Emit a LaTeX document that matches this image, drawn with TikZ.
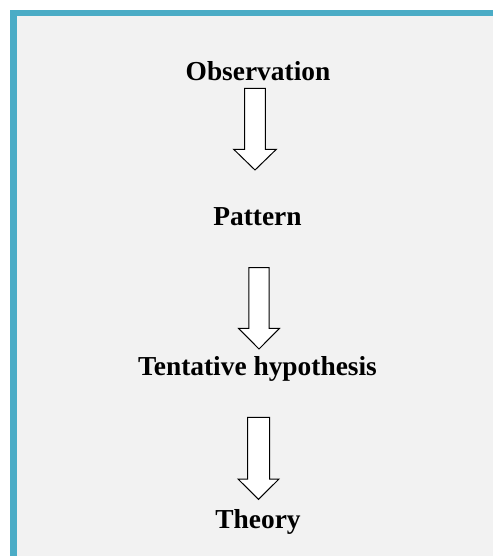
\documentclass[tikz,border=0pt]{standalone}
\usepackage{fontspec}
\setmainfont{Liberation Serif}
\definecolor{framecol}{HTML}{4BACC6}
\definecolor{panelgray}{HTML}{F2F2F2}
\tikzset{
  label/.style={anchor=base, inner sep=0pt, font=\bfseries\fontsize{27.4}{30}\selectfont},
  blockarrow/.style={draw=black, fill=white, line width=1pt, line join=miter},
  pics/downarr/.style n args={4}{code={
    \draw[blockarrow] (-#1,0) -- (#1,0) -- (#1,#3) -- (#2,#3) -- (0,#4) -- (-#2,#3) -- (-#1,#3) -- cycle;
  }}
}
\begin{document}
\begin{tikzpicture}[x=1pt,y=-1pt]
\useasboundingbox (0,0) rectangle (493,556);
\fill[white] (0,0) rectangle (493,556);
\fill[framecol] (10,10) rectangle (493,556);
\fill[panelgray] (16.7,16.2) rectangle (493,556);

\node[label] (obs) at (258,81) {Observation};
\node[label] (pat) at (257.5,225.7) {Pattern};
\node[label] (hyp) at (257.5,375.7) {Tentative hypothesis};
\node[label] (theo) at (258,528.3) {Theory};

\pic at (255,88.3) {downarr={10.3}{21.3}{61}{81.7}};
\pic at (259,267.7) {downarr={10.2}{20.5}{60.6}{81.3}};
\pic at (258.5,417.3) {downarr={11}{20.5}{61.7}{82}};
\end{tikzpicture}
\end{document}
